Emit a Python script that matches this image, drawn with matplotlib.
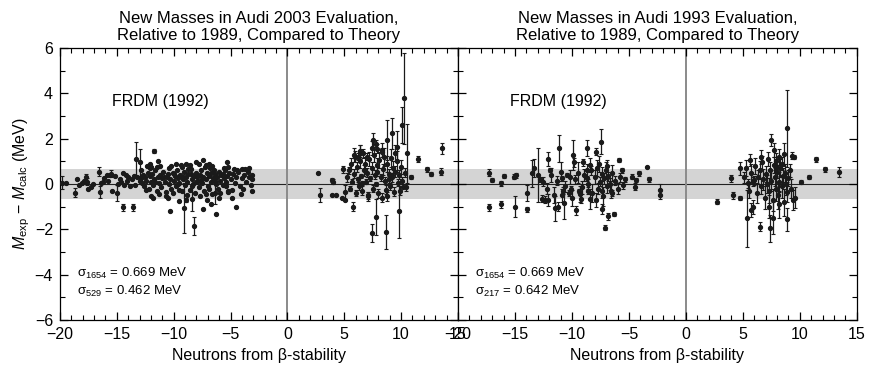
import matplotlib.pyplot as plt
from matplotlib.ticker import MultipleLocator

plt.rcParams['font.family'] = ['Liberation Sans', 'DejaVu Sans']
plt.rcParams['mathtext.fontset'] = 'custom'
plt.rcParams['mathtext.rm'] = 'Liberation Sans'
plt.rcParams['mathtext.it'] = 'Liberation Sans:italic'

# ---- data: Audi 2003 (left panel) ----
# isolated / error-bar points
a03_x = [-19.8, -19.5, -18.7, -18.5, -18.3, -18.1, -17.9, -17.7, -17.6, -17.5,
         -17.3, -17.1, -16.6, -16.5, -16.4, -16.2, -16.1, -15.9, -15.8, -15.6,
         -15.5, -15.4, -15.2, -15.0, -14.9, -14.7, -14.5, -14.5, -14.4, -14.1,
         -14.0, -13.8, -13.6, -13.5, -13.3, -13.0, -13.0, -11.7, -12.0, -11.4,
         -11.2, -12.0, -10.5, -10.3, -9.5, -9.1, -8.9, -8.4, -8.25, -7.4,
         -7.1, -6.7, -6.3, -6.4, -4.5, -4.9, -4.1, -3.1, -3.1, -3.1,
         -3.4, -3.7, -4.0, -4.4, -5.3, -5.6, -5.4, -5.2, -8.0, -7.4,
         -6.9, -8.9, -9.8, -12.1,
         2.67, 2.85, 3.94, 4.0, 3.9, 4.3, 4.9, 4.8, 5.1, 5.1,
         5.8, 5.84, 6.2, 6.36, 6.65, 7.0, 7.55, 7.46, 7.75, 7.75,
         7.9, 8.3, 8.63, 8.78, 9.22, 9.6, 10.04, 10.25, 10.55, 9.8,
         10.2, 10.9, 11.5, 12.3, 12.6, 13.6, 13.5]
a03_y = [0.06, 0.06, -0.38, 0.2, -0.05, 0.05, 0.15, 0.3, 0.1, -0.2,
         -0.15, 0.0, 0.55, -0.35, 0.05, 0.1, 0.25, 0.4, 0.15, 0.4,
         0.45, -0.3, 0.35, -0.4, 0.0, 0.2, 0.5, -1.03, -0.05, 0.15,
         0.3, -0.1, -1.03, 0.35, 1.09, 0.95, 0.15, 1.45, 0.75, 1.0,
         0.8, -0.55, -0.6, -1.19, -0.73, -1.05, -0.7, -0.65, -1.85, -1.1,
         -0.7, -0.9, -1.32, -0.38, -1.0, -0.6, -0.45, -0.32, 0.22, 0.4,
         0.7, 0.65, 0.65, 0.6, 0.95, 0.7, -0.1, -0.3, 0.95, 1.05,
         0.9, 0.9, 0.9, 0.9,
         0.47, -0.48, 0.18, 0.1, -0.48, -0.48, 0.65, -0.6, -0.7, -0.35,
         -1.0, 1.28, 1.2, 1.4, 1.35, 1.2, 1.94, -2.17, -1.44, 1.75,
         1.55, 1.4, -2.1, 1.94, 2.23, 1.65, 2.6, 3.78, 1.35, -1.2,
         -0.15, 0.3, 1.1, 0.65, 0.45, 1.57, 0.54]
a03_e = [0.3, 0.0, 0.2, 0.0, 0.0, 0.0, 0.0, 0.15, 0.15, 0.0,
         0.0, 0.0, 0.2, 0.25, 0.0, 0.0, 0.0, 0.0, 0.0, 0.0,
         0.15, 0.0, 0.0, 0.35, 0.0, 0.0, 0.0, 0.15, 0.0, 0.0,
         0.0, 0.0, 0.15, 0.0, 0.75, 0.6, 0.0, 0.1, 0.0, 0.0,
         0.0, 0.0, 0.0, 0.0, 0.0, 1.1, 0.1, 0.55, 0.4, 0.0,
         0.0, 0.0, 0.0, 0.52, 0.0, 0.0, 0.0, 0.0, 0.0, 0.0,
         0.0, 0.0, 0.0, 0.0, 0.0, 0.0, 0.0, 0.0, 0.0, 0.0,
         0.0, 0.0, 0.0, 0.0,
         0.0, 0.3, 0.1, 0.1, 0.0, 0.0, 0.15, 0.0, 0.0, 0.3,
         0.2, 0.3, 0.15, 0.3, 0.2, 0.15, 0.3, 0.4, 0.8, 0.2,
         0.2, 0.2, 0.75, 0.9, 0.7, 0.7, 0.8, 2.0, 1.3, 1.2,
         0.0, 0.1, 0.15, 0.1, 0.1, 0.25, 0.15]
# dense cloud, negative side
a03_cx = [-12.9, -12.8, -12.7, -12.6, -12.5, -12.4, -12.3, -12.2, -12.1, -12.0,
          -11.9, -11.8, -11.7, -11.6, -11.5, -11.4, -11.3, -11.2, -11.1, -11.0,
          -10.9, -10.8, -10.7, -10.6, -10.5, -10.4, -10.3, -10.2, -10.1, -10.0,
          -9.9, -9.8, -9.7, -9.6, -9.5, -9.4, -9.3, -9.2, -9.1, -9.0,
          -8.9, -8.8, -8.7, -8.6, -8.5, -8.4, -8.3, -8.2, -8.1, -8.0,
          -7.9, -7.8, -7.7, -7.6, -7.5, -7.4, -7.3, -7.2, -7.1, -7.0,
          -6.9, -6.8, -6.7, -6.6, -6.5, -6.4, -6.3, -6.2, -6.1, -6.0,
          -5.9, -5.8, -5.7, -5.6, -5.5, -5.4, -5.3, -5.2, -5.1, -5.0,
          -4.8, -4.6, -4.5, -4.3, -4.2, -4.0, -3.8, -3.6, -3.4, -3.2,
          -12.85, -12.45, -12.05, -11.65, -11.25, -10.85, -10.45, -10.05, -9.65, -9.25,
          -8.85, -8.45, -8.05, -7.65, -7.25, -6.85, -6.45, -6.05, -5.65, -5.25,
          -9.95, -9.55, -9.15, -8.75, -8.35, -7.95, -7.55, -7.15, -6.75, -6.35,
          -13.2, -13.4, -13.7, -14.2, -14.6, -12.35, -11.85, -11.45, -10.65, -10.25,
          -8.6, -7.8, -7.2, -6.6, -9.35, -5.9, -4.9, -4.7, -3.9, -3.5]
a03_cy = [0.25, 0.05, 0.4, -0.1, 0.3, 0.15, 0.5, -0.2, 0.35, 0.1,
          0.45, -0.05, 0.2, 0.6, -0.3, 0.3, 0.05, 0.4, -0.15, 0.25,
          0.55, 0.1, -0.35, 0.3, 0.45, 0.0, 0.2, -0.2, 0.5, 0.15,
          0.35, -0.1, 0.6, 0.25, 0.05, 0.4, -0.3, 0.2, 0.55, -0.05,
          0.3, 0.1, 0.45, -0.25, 0.65, 0.2, 0.0, 0.35, -0.4, 0.5,
          0.15, -0.15, 0.4, 0.6, 0.05, 0.3, -0.3, 0.2, 0.5, -0.1,
          0.35, 0.7, 0.1, -0.45, 0.25, 0.45, 0.0, 0.3, -0.2, 0.55,
          0.15, 0.4, -0.05, 0.25, 0.6, 0.1, 0.35, -0.35, 0.5, 0.2,
          0.45, 0.05, 0.3, 0.55, -0.1, 0.25, 0.4, 0.1, 0.3, -0.05,
          0.6, -0.25, 0.7, 0.1, -0.45, 0.3, 0.7, -0.4, 0.0, 0.75,
          -0.5, 0.45, 0.1, -0.55, 0.75, -0.2, 0.6, -0.6, 0.45, 0.75,
          0.45, -0.25, 0.3, 0.65, -0.1, 0.3, 0.2, -0.45, 0.5, 0.15,
          0.3, -0.05, 0.2, 0.4, 0.1, 0.8, -0.6, 0.75, -0.55, 0.8,
          0.85, 0.9, 0.85, 0.8, 0.85, -0.4, -0.25, 0.65, -0.2, 0.55]
# dense cloud, positive side
a03_px = [5.2, 5.4, 5.5, 5.6, 5.7, 5.9, 6.0, 6.1, 6.2, 6.3,
          6.4, 6.5, 6.6, 6.7, 6.8, 6.9, 7.0, 7.1, 7.2, 7.3,
          7.4, 7.5, 7.6, 7.7, 7.8, 7.9, 8.0, 8.1, 8.2, 8.3,
          8.4, 8.5, 8.6, 8.7, 8.8, 8.9, 9.0, 9.1, 9.2, 9.3,
          9.4, 9.5, 9.6, 9.7, 9.8, 9.9, 10.0, 10.1, 10.3, 10.4,
          7.45, 6.35, 8.35, 7.05, 5.95, 8.75, 9.45, 6.55, 7.85, 8.95]
a03_py = [0.3, 0.6, -0.2, 0.9, 0.1, 0.45, -0.4, 0.75, 0.2, -0.1,
          1.0, 0.35, -0.3, 0.6, 0.9, 0.1, 0.5, -0.5, 1.1, 0.25,
          0.7, -0.2, 1.3, 0.4, 0.0, 0.85, -0.4, 1.05, 0.3, -0.6,
          0.65, 1.2, 0.15, -0.25, 0.9, 0.45, -0.1, 1.15, 0.3, 0.7,
          -0.35, 0.55, 1.0, 0.05, 0.4, -0.3, 0.75, 0.15, 0.5, -0.15,
          1.6, 1.45, 1.5, -0.55, 1.2, -0.55, 1.35, 0.05, 0.55, 0.2]
a03_pe = [0.2, 0.15, 0.1, 0.25, 0.1, 0.2, 0.15, 0.2, 0.1, 0.15,
          0.3, 0.1, 0.2, 0.25, 0.3, 0.1, 0.2, 0.15, 0.3, 0.1,
          0.25, 0.15, 0.35, 0.2, 0.1, 0.3, 0.2, 0.35, 0.15, 0.2,
          0.25, 0.4, 0.15, 0.2, 0.35, 0.2, 0.15, 0.4, 0.2, 0.3,
          0.2, 0.25, 0.45, 0.15, 0.2, 0.2, 0.3, 0.15, 0.2, 0.15,
          0.3, 0.25, 0.3, 0.2, 0.25, 0.2, 0.35, 0.1, 0.2, 0.15]

# ---- data: Audi 1993 (right panel) ----
a93_x = [-17.3, -17.0, -17.25, -16.2, -16.0, -16.2, -15.1, -14.9, -15.0, -13.9,
         -13.9, -13.5, -13.3, -13.0, -12.8, -12.6, -12.4, -12.1, -12.1, -11.9,
         -11.5, -11.2, -11.1, -10.9, -10.8, -10.7, -10.4, -10.3, -10.1, -9.9,
         -9.8, -9.6, -9.4, -9.2, -9.0, -8.7, -8.7, -8.6, -8.4, -8.3,
         -7.9, -7.46, -7.4, -7.1, -6.85, -6.3, -6.5, -5.9, -5.6, -5.3,
         -4.76, -4.5, -4.4, -4.1, -3.4, -3.2, -2.28, -2.28,
         2.75, 3.92, 4.1, 4.74, 4.74, 5.38, 5.47, 5.6, 5.75, 5.9,
         6.0, 6.49, 6.6, 7.37, 7.5, 7.65, 7.7, 7.9, 8.2, 8.83,
         8.9, 8.65, 9.3, 9.5, 9.4, 9.6, 10.1, 10.8, 11.4, 12.2, 13.4]
a93_y = [0.5, 0.17, -1.03, 0.03, 0.35, -0.9, 0.33, 0.38, -1.0, -1.12,
         -0.41, 0.47, 0.7, 0.4, 0.2, -0.65, -0.7, -0.7, 1.09, 0.62,
         -1.06, -1.0, 1.57, 0.25, -0.3, -0.85, 0.4, -0.4, -0.2, 1.28,
         0.95, -1.15, -0.3, -0.65, 0.95, 1.57, 0.25, -0.3, -0.65, 0.6,
         1.43, 1.86, -1.1, -1.92, -1.42, -1.32, -0.4, 1.06, 0.6, 0.2,
         0.32, -0.12, 0.17, 0.47, 0.73, 0.2, -0.26, -0.48,
         -0.78, 0.25, -0.5, -0.62, 0.69, -1.51, 0.04, 1.06, -1.15, -1.0,
         0.17, -1.88, 1.2, -1.95, 1.94, -1.5, 1.5, 0.8, 1.2, 2.45,
         -1.55, 1.31, 1.25, 1.2, -0.7, -0.6, 0.08, 0.3, 1.09, 0.64, 0.53]
a93_e = [0.15, 0.1, 0.15, 0.1, 0.1, 0.15, 0.1, 0.1, 0.45, 0.1,
         0.35, 0.6, 0.4, 1.2, 0.1, 0.15, 0.15, 0.25, 0.3, 0.1,
         0.55, 0.2, 0.6, 0.1, 0.15, 0.7, 0.1, 0.15, 0.1, 0.65,
         0.2, 0.2, 0.1, 0.2, 0.15, 0.35, 0.1, 0.15, 0.45, 0.2,
         0.15, 0.55, 0.2, 0.1, 0.15, 0.1, 0.15, 0.1, 0.1, 0.1,
         0.1, 0.15, 0.1, 0.1, 0.0, 0.1, 0.25, 0.2,
         0.1, 0.15, 0.15, 0.1, 0.3, 1.25, 0.2, 0.25, 0.3, 0.3,
         0.2, 0.2, 0.3, 0.6, 0.25, 0.7, 0.3, 0.3, 0.35, 1.7,
         0.5, 0.5, 0.15, 0.1, 0.45, 0.45, 0.1, 0.1, 0.1, 0.1, 0.2]
a93_cx = [-12.5, -12.2, -11.8, -11.6, -11.3, -11.0, -10.6, -10.2, -9.95, -9.7,
          -9.45, -9.1, -8.9, -8.55, -8.2, -8.0, -7.8, -7.7, -7.55, -7.4,
          -7.3, -7.2, -7.05, -6.95, -6.8, -6.7, -6.6, -6.45, -6.2, -6.0,
          -8.4, -9.3, -10.9, -5.8, -5.5, -7.9, -7.6, -8.7, -6.9, -7.35,
          5.1, 5.3, 5.5, 5.7, 5.9, 6.1, 6.2, 6.3, 6.5, 6.6,
          6.7, 6.8, 6.9, 7.0, 7.1, 7.2, 7.3, 7.4, 7.5, 7.6,
          7.7, 7.8, 7.9, 8.0, 8.1, 8.2, 8.3, 8.4, 8.5, 8.6,
          8.7, 8.8, 8.9, 9.0, 9.1, 9.2, 7.95, 8.15, 8.45, 7.25]
a93_cy = [0.1, -0.2, 0.4, -0.5, 0.15, 0.55, -0.1, 0.3, -0.6, 0.2,
          0.5, -0.15, 0.4, 0.0, -0.4, 0.3, 0.7, -0.2, 0.1, 0.45,
          -0.55, 0.25, 0.6, -0.1, 0.35, 0.0, -0.3, 0.5, 0.15, -0.2,
          0.85, -0.45, -0.5, 0.3, -0.05, -0.7, 0.9, 0.6, 0.8, -0.3,
          0.3, 0.7, -0.3, 0.5, 0.1, 0.8, -0.4, 0.3, 0.6, -0.1,
          0.95, 0.2, -0.6, 0.45, 0.0, 1.1, -0.3, 0.6, 0.15, -0.7,
          0.85, 0.3, -0.2, 0.55, -0.5, 0.1, 0.7, -0.1, 0.35, -0.8,
          0.5, 0.0, -0.35, 0.25, 0.6, -0.2, 1.0, -0.9, 0.9, -1.0]
a93_ce = [0.2, 0.25, 0.3, 0.35, 0.2, 0.4, 0.25, 0.3, 0.35, 0.2,
          0.45, 0.3, 0.25, 0.2, 0.4, 0.3, 0.35, 0.25, 0.2, 0.3,
          0.4, 0.25, 0.35, 0.3, 0.2, 0.25, 0.3, 0.35, 0.2, 0.25,
          0.3, 0.35, 0.3, 0.2, 0.15, 0.3, 0.35, 0.3, 0.25, 0.3,
          0.25, 0.35, 0.3, 0.4, 0.2, 0.35, 0.45, 0.3, 0.4, 0.35,
          0.3, 0.45, 0.5, 0.35, 0.4, 0.3, 0.55, 0.35, 0.45, 0.5,
          0.35, 0.4, 0.55, 0.3, 0.6, 0.45, 0.4, 0.5, 0.35, 0.6,
          0.4, 0.5, 0.45, 0.35, 0.3, 0.4, 0.35, 0.6, 0.3, 0.5]

sigma_band = 0.669
titles = ["New Masses in Audi 2003 Evaluation,\nRelative to 1989, Compared to Theory",
          "New Masses in Audi 1993 Evaluation,\nRelative to 1989, Compared to Theory"]
sigma_lines = [["σ$_{1654}$ = 0.669 MeV", "σ$_{529}$ = 0.462 MeV"],
               ["σ$_{1654}$ = 0.669 MeV", "σ$_{217}$ = 0.642 MeV"]]

fig = plt.figure(figsize=(8.69, 3.71), dpi=100)
ax1 = fig.add_axes([0.069, 0.137, 0.458, 0.734])
ax2 = fig.add_axes([0.527, 0.137, 0.459, 0.734])

panels = [
    (ax1, [(a03_x, a03_y, a03_e), (a03_cx, a03_cy, [0.0] * len(a03_cx)), (a03_px, a03_py, a03_pe)]),
    (ax2, [(a93_x, a93_y, a93_e), (a93_cx, a93_cy, a93_ce)]),
]

for i, (ax, groups) in enumerate(panels):
    ax.axhspan(-sigma_band, sigma_band, color='#d4d4d4', lw=0, zorder=0)
    ax.axhline(0, color='#222222', lw=0.8, zorder=1)
    ax.axvline(0, color='#8a8a8a', lw=1.4, zorder=1)
    for gx, gy, ge in groups:
        ax.errorbar(gx, gy, yerr=ge, fmt='o', ms=2.8, color='#1a1a1a',
                    ecolor='#1a1a1a', elinewidth=0.9, capsize=1.6, capthick=0.8, zorder=3)
    ax.set_xlim(-20, 15)
    ax.set_ylim(-6, 6)
    ax.xaxis.set_major_locator(MultipleLocator(5))
    ax.xaxis.set_minor_locator(MultipleLocator(1))
    ax.yaxis.set_major_locator(MultipleLocator(2))
    ax.yaxis.set_minor_locator(MultipleLocator(1))
    ax.tick_params(which='both', direction='in', top=True, right=True, labelsize=11.5)
    ax.tick_params(which='major', length=6, width=0.9)
    ax.tick_params(axis='x', which='major', pad=5)
    ax.tick_params(axis='y', which='major', pad=5)
    ax.tick_params(which='minor', length=3.5, width=0.8)
    for s in ax.spines.values():
        s.set_linewidth(0.9)
    ax.set_title(titles[i], fontsize=12, linespacing=1.1, pad=6)
    ax.set_xlabel("Neutrons from β-stability", fontsize=11.5, labelpad=4)
    ax.text(-11.2, 3.65, "FRDM (1992)", fontsize=11.5, ha='center', va='center')
    ax.text(-18.5, -3.95, sigma_lines[i][0], fontsize=9.5, ha='left', va='center')
    ax.text(-18.5, -4.75, sigma_lines[i][1], fontsize=9.5, ha='left', va='center')

ax2.tick_params(labelleft=False)
ax1.set_ylabel("$M_{\\mathrm{exp}}$ \u2212 $M_{\\mathrm{calc}}$ (MeV)", fontsize=11.5, labelpad=2)

fig.savefig("out.png", dpi=100)
